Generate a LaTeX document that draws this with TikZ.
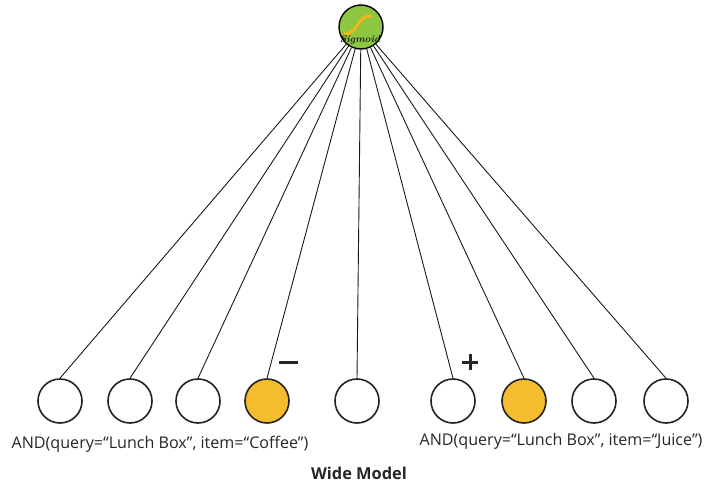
\documentclass[tikz,border=0pt]{standalone}
\usepackage{fontspec}
\setmainfont{Open Sans}
\definecolor{nodeorange}{HTML}{F5BD2E}
\definecolor{siggreen}{HTML}{8DC63F}
\definecolor{sigcurve}{HTML}{F6B41E}
\definecolor{edge}{HTML}{222222}
\begin{document}
\begin{tikzpicture}[x=1pt,y=-1pt,
  unit/.style={circle,draw=edge,line width=1.6pt,minimum size=44pt,inner sep=0pt,fill=white},
  hot/.style={unit,fill=nodeorange},
  link/.style={draw=black!90,line width=0.9pt},
  lbl/.style={font=\fontsize{16.1}{17}\selectfont,inner sep=0pt,text=black!85},
  sign/.style={line width=3pt,draw=black!85}]
\useasboundingbox (0,0) rectangle (705,482);
\node[circle,draw=black,line width=1.4pt,fill=siggreen,minimum size=44pt,inner sep=0pt] (sig) at (361,27) {};
\draw[sigcurve,line width=3pt,line cap=round] (345,34) .. controls (358,34) and (356,16) .. (371,16);
\node[inner sep=0pt,anchor=base,text=black!90,font=\fontspec{Latin Modern Roman}\bfseries\itshape\fontsize{10}{10}\selectfont] (sigtxt) at (360,42.5) {Sigmoid};
\node[unit] (c1) at (60,401) {};
\node[unit] (c2) at (130,401) {};
\node[unit] (c3) at (198,401) {};
\node[hot]  (c4) at (267,401) {};
\node[unit] (c5) at (357,401) {};
\node[unit] (c6) at (453,401) {};
\node[hot]  (c7) at (524,401) {};
\node[unit] (c8) at (594,401) {};
\node[unit] (c9) at (666,401) {};
\foreach \i in {1,...,9} {\draw[link] (sig) -- (c\i.north);}
\coordinate (m1) at (279,362); \coordinate (m2) at (298,362);
\draw[sign] (m1) -- (m2);
\coordinate (p1) at (462,362); \coordinate (p2) at (478,362);
\coordinate (p3) at (470,354); \coordinate (p4) at (470,370);
\draw[sign] (p1) -- (p2);
\draw[sign] (p3) -- (p4);
\node[lbl] (l1) at (160,444) {AND(query=“Lunch Box”, item=“Coffee”)};
\node[lbl] (l2) at (561,441) {AND(query=“Lunch Box”, item=“Juice”)};
\node[lbl,anchor=base,font=\bfseries\fontsize{16.4}{17}\selectfont] (title) at (359,479.5) {Wide Model};
\end{tikzpicture}
\end{document}
